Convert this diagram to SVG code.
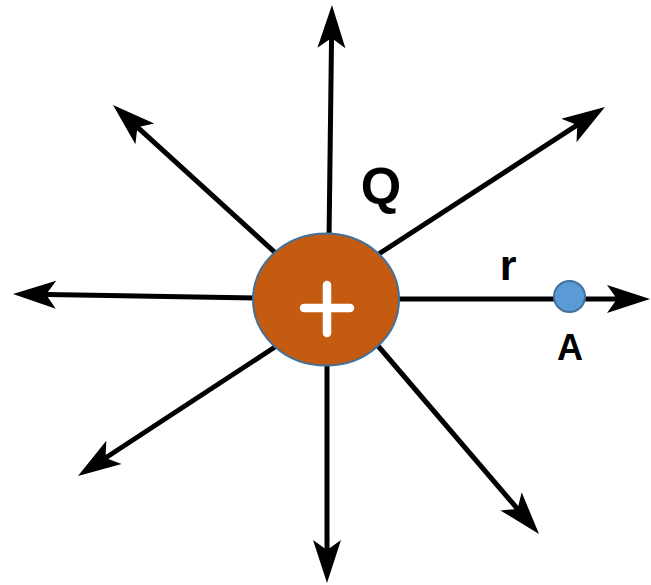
<svg xmlns="http://www.w3.org/2000/svg" width="651" height="585" viewBox="0 0 651 585">
<defs>
<style>
.ln{stroke:#000;stroke-width:5;fill:none;marker-end:url(#ah)}
.lbl{font-family:"Liberation Sans",Arial,sans-serif;font-weight:bold;fill:#000;text-anchor:middle}
</style>
<marker id="ah" markerUnits="userSpaceOnUse" orient="auto" refX="0" refY="0" markerWidth="60" markerHeight="60" viewBox="-30 -30 60 60" overflow="visible">
<path d="M20,0 L-23,-14 L-13,0 L-23,14 Z" fill="#000"/>
</marker>
</defs>
<rect width="651" height="585" fill="#fff"/>
<g id="connectors">
<line class="ln" x1="329" y1="240" x2="331.7" y2="25"/>
<line class="ln" x1="280" y1="257" x2="127.8" y2="118.4"/>
<line class="ln" x1="374" y1="257" x2="588.2" y2="117.9"/>
<line class="ln" x1="260" y1="298" x2="33" y2="294.3"/>
<line class="ln" x1="392" y1="299" x2="630" y2="299"/>
<line class="ln" x1="281" y1="343" x2="94.7" y2="465"/>
<line class="ln" x1="327" y1="360" x2="327" y2="563"/>
<line class="ln" x1="373" y1="340" x2="526" y2="518.8"/>
</g>
<g id="charge">
<ellipse cx="326" cy="299.5" rx="73" ry="66" fill="#c55a11" stroke="#41719c" stroke-width="2"/>
<path d="M304,308 H350 M327,285 V333" stroke="#fff" stroke-width="8.5" stroke-linecap="round" fill="none"/>
</g>
<g id="label-Q"><text class="lbl" x="381" y="204" font-size="52">Q</text></g>
<g id="label-r"><text class="lbl" x="508" y="280" font-size="43">r</text></g>
<g id="pointA">
<circle cx="569.5" cy="296.5" r="15.5" fill="#5b9bd5" stroke="#41719c" stroke-width="2"/>
<text class="lbl" x="570" y="360" font-size="36">A</text>
</g>
</svg>
